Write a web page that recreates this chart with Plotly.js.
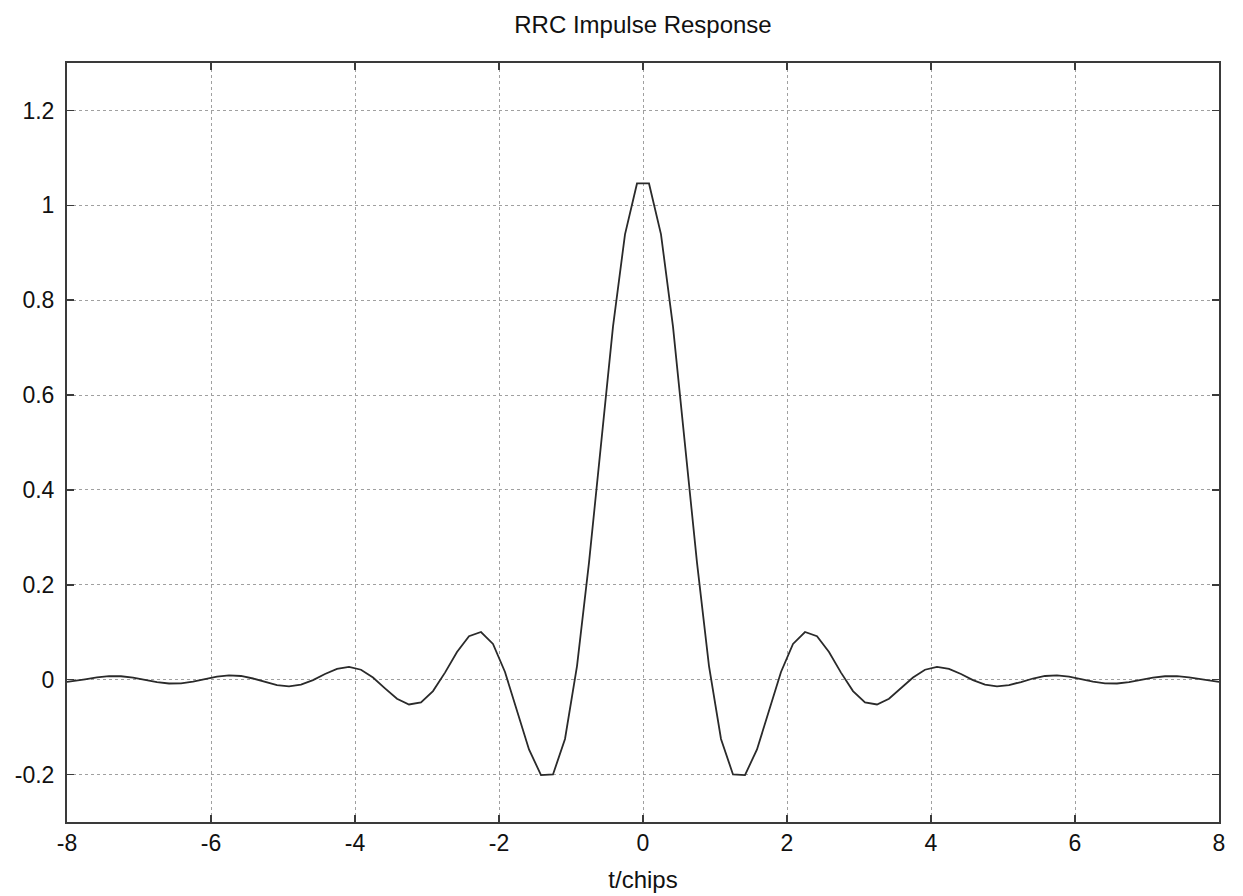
<!DOCTYPE html>
<html>
<head>
<meta charset="utf-8">
<script src="https://cdn.plot.ly/plotly-3.0.1.min.js"></script>
<style>
html,body{margin:0;padding:0;background:#fff;}
#chart{width:1243px;height:896px;}
</style>
</head>
<body>
<div id="chart"></div>
<script>
// Sample times (chips)
const tChips = [-8, -7.91667, -7.75, -7.58333, -7.41667, -7.25, -7.08333, -6.91667, -6.75, -6.58333, -6.41667, -6.25, -6.08333, -5.91667, -5.75, -5.58333, -5.41667, -5.25, -5.08333, -4.91667, -4.75, -4.58333, -4.41667, -4.25, -4.08333, -3.91667, -3.75, -3.58333, -3.41667, -3.25, -3.08333, -2.91667, -2.75, -2.58333, -2.41667, -2.25, -2.08333, -1.91667, -1.75, -1.58333, -1.41667, -1.25, -1.08333, -0.91667, -0.75, -0.58333, -0.41667, -0.25, -0.08333,
  0.08333, 0.25, 0.41667, 0.58333, 0.75, 0.91667, 1.08333, 1.25, 1.41667, 1.58333, 1.75, 1.91667, 2.08333, 2.25, 2.41667, 2.58333, 2.75, 2.91667, 3.08333, 3.25, 3.41667, 3.58333, 3.75, 3.91667, 4.08333, 4.25, 4.41667, 4.58333, 4.75, 4.91667, 5.08333, 5.25, 5.41667, 5.58333, 5.75, 5.91667, 6.08333, 6.25, 6.41667, 6.58333, 6.75, 6.91667, 7.08333, 7.25, 7.41667, 7.58333, 7.75, 7.91667, 8];
// Impulse response values
const impulse = [-0.0048, -0.0033, 0.0007, 0.0048, 0.0073, 0.0072, 0.0044, -0.0003, -0.0050, -0.0080, -0.0078, -0.0043, 0.0011, 0.0064, 0.0091, 0.0078, 0.0025, -0.0049, -0.0115, -0.0140, -0.0104, -0.0008, 0.0119, 0.0228, 0.0271, 0.0210, 0.0046, -0.0182, -0.0402, -0.0523, -0.0478, -0.0240, 0.0149, 0.0583, 0.0917, 0.1005, 0.0753, 0.0162, -0.0653, -0.1470, -0.2010, -0.1998, -0.1250, 0.0288, 0.2466, 0.4989, 0.7441, 0.9389, 1.0461,
  1.0461, 0.9389, 0.7441, 0.4989, 0.2466, 0.0288, -0.1250, -0.1998, -0.2010, -0.1470, -0.0653, 0.0162, 0.0753, 0.1005, 0.0917, 0.0583, 0.0149, -0.0240, -0.0478, -0.0523, -0.0402, -0.0182, 0.0046, 0.0210, 0.0271, 0.0228, 0.0119, -0.0008, -0.0104, -0.0140, -0.0115, -0.0049, 0.0025, 0.0078, 0.0091, 0.0064, 0.0011, -0.0043, -0.0078, -0.0080, -0.0050, -0.0003, 0.0044, 0.0072, 0.0073, 0.0048, 0.0007, -0.0033, -0.0048];

const xTickVals = [-8, -6, -4, -2, 0, 2, 4, 6, 8];
const xTickText = ["-8", "-6", "-4", "-2", "0", "2", "4", "6", "8"];
const yTickVals = [-0.2, 0, 0.2, 0.4, 0.6, 0.8, 1, 1.2];
const yTickText = ["-0.2", "0", "0.2", "0.4", "0.6", "0.8", "1", "1.2"];

const font = "Liberation Sans, Arial, sans-serif";
const axisCommon = {
  showline: true, mirror: 'allticks', linecolor: '#3a3a3a', linewidth: 2,
  ticks: 'inside', ticklen: 7, tickwidth: 1.5, tickcolor: '#3a3a3a',
  showgrid: true, gridcolor: '#a0a0a0', gridwidth: 1, griddash: 'dot',
  zeroline: false, tickmode: 'array',
  tickfont: {family: font, size: 23, color: '#111'}
};

const trace = {
  x: tChips, y: impulse, type: 'scatter', mode: 'lines',
  line: {color: '#2a2a2a', width: 1.8}, hoverinfo: 'skip'
};

const layout = {
  width: 1243, height: 896,
  margin: {l: 67, r: 24, t: 63, b: 74},
  paper_bgcolor: '#fff', plot_bgcolor: '#fff',
  showlegend: false,
  title: {text: 'RRC Impulse Response', font: {family: font, size: 24, color: '#111'},
          x: 0.5, xref: 'paper', y: 1 - 25/896, yref: 'container', yanchor: 'middle'},
  xaxis: Object.assign({}, axisCommon, {
    range: [-8, 8], tickvals: xTickVals, ticktext: xTickText, ticklabelstandoff: -1,
    title: {text: 't/chips', font: {family: font, size: 24, color: '#111'}, standoff: 17}
  }),
  yaxis: Object.assign({}, axisCommon, {
    range: [-0.3, 1.3], tickvals: yTickVals, ticktext: yTickText, ticklabelstandoff: 6
  })
};

Plotly.newPlot('chart', [trace], layout, {staticPlot: true, displayModeBar: false});
</script>
</body>
</html>
